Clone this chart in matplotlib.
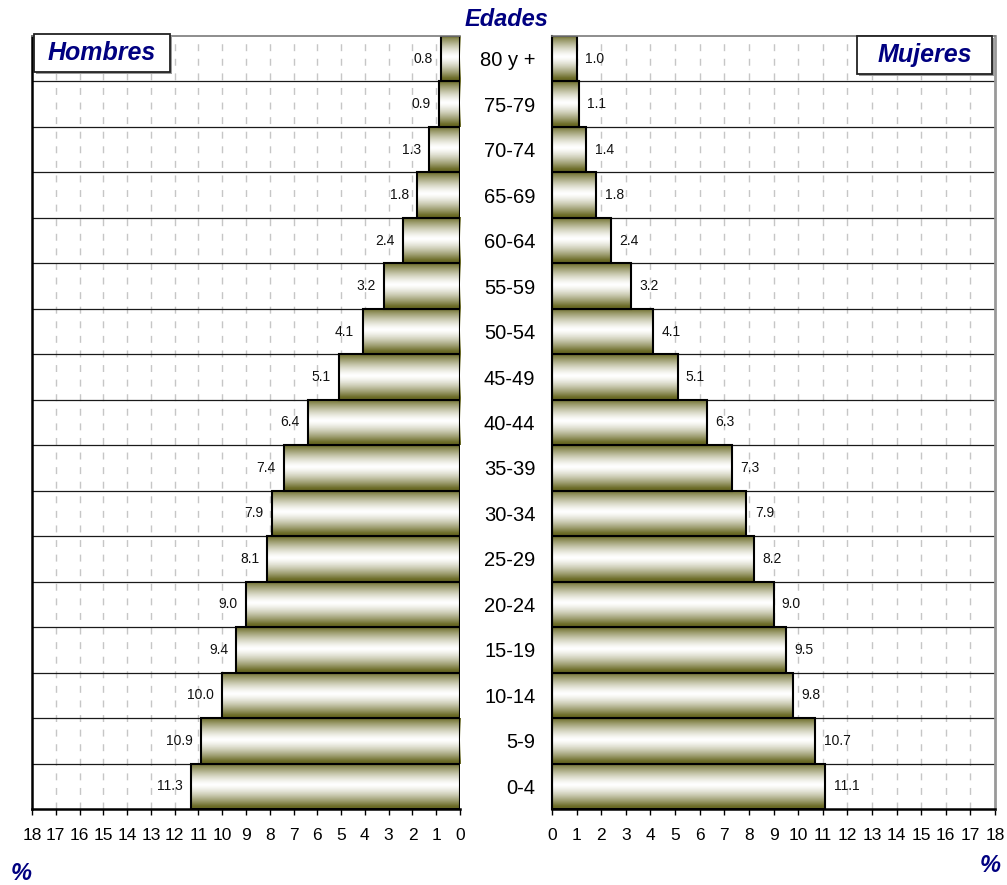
import numpy as np
import matplotlib
matplotlib.use("Agg")
import matplotlib.pyplot as plt
from matplotlib.patches import Rectangle

plt.rcParams['font.family'] = ['Liberation Sans', 'DejaVu Sans']

# ---- data (top to bottom) ----
edades = ["80 y +", "75-79", "70-74", "65-69", "60-64", "55-59", "50-54", "45-49",
          "40-44", "35-39", "30-34", "25-29", "20-24", "15-19", "10-14", "5-9", "0-4"]
hombres = [0.8, 0.9, 1.3, 1.8, 2.4, 3.2, 4.1, 5.1, 6.4, 7.4, 7.9, 8.1, 9.0, 9.4, 10.0, 10.9, 11.3]
mujeres = [1.0, 1.1, 1.4, 1.8, 2.4, 3.2, 4.1, 5.1, 6.3, 7.3, 7.9, 8.2, 9.0, 9.5, 9.8, 10.7, 11.1]
xticks = list(range(0, 19))

W, H = 1007, 885
fig = plt.figure(figsize=(W / 100, H / 100), dpi=100)

top_px, bot_px = 36, 809
axL = fig.add_axes([32 / W, (H - bot_px) / H, 428 / W, (bot_px - top_px) / H])
axR = fig.add_axes([552 / W, (H - bot_px) / H, 443 / W, (bot_px - top_px) / H])

olive = np.array([0.42, 0.42, 0.15])
white = np.array([1.0, 1.0, 1.0])
t = np.linspace(0, 1, 200)
w = np.clip(np.abs(t - 0.47) / 0.47, 0, 1) ** 1.4
grad = (white[None, :] * (1 - w[:, None]) + olive[None, :] * w[:, None])
grad_img = np.repeat(grad[:, None, :], 2, axis=1)

navy = '#000080'
ypos = np.arange(len(edades))

for ax, vals, side in [(axL, hombres, 'L'), (axR, mujeres, 'R')]:
    ax.set_zorder(1)
    bars = ax.barh(ypos, vals, height=1.0, facecolor='none', edgecolor='black',
                   linewidth=1.5, zorder=4)
    for b in bars:
        x0, y0 = b.get_x(), b.get_y()
        bw, bh = b.get_width(), b.get_height()
        ax.imshow(grad_img, extent=[x0, x0 + bw, y0 + bh, y0], aspect='auto',
                  interpolation='bilinear', zorder=3)
    ax.set_ylim(len(edades) - 0.5, -0.5)
    if side == 'L':
        ax.set_xlim(18, 0)
    else:
        ax.set_xlim(0, 18)
    ax.set_xticks(xticks)
    ax.set_xticklabels([str(v) for v in xticks], fontsize=12.5)
    ax.tick_params(axis='x', direction='out', length=4, width=1, pad=10, colors='black')
    # vertical dashed grid
    for xv in xticks[1:-1]:
        ax.axvline(xv, color='#c6c6c6', lw=1, dashes=(5, 5.5), zorder=1)
    # horizontal separators
    for yb in np.arange(-0.5, len(edades) - 0.5, 1.0)[1:]:
        ax.axhline(yb, color='#1a1a1a', lw=0.9, zorder=2)
    for i, v in enumerate(vals):
        if side == 'L':
            ax.annotate(f"{v:.1f}", (v, i), xytext=(-6, 0), textcoords='offset points',
                        ha='right', va='center', fontsize=10, color='#111111', zorder=5)
        else:
            ax.annotate(f"{v:.1f}", (v, i), xytext=(6, 0), textcoords='offset points',
                        ha='left', va='center', fontsize=10, color='#111111', zorder=5)
    for s in ax.spines.values():
        s.set_zorder(6)
    ax.spines['top'].set_color('#7a7a7a')
    ax.spines['top'].set_linewidth(1.2)
    ax.spines['bottom'].set_color('black')
    ax.spines['bottom'].set_linewidth(1.8)

axL.set_yticks([])
axL.spines['left'].set_linewidth(1.8)
axL.spines['left'].set_color('black')
axL.spines['right'].set_visible(False)

axR.set_yticks(ypos)
axR.set_yticklabels(edades, fontsize=14.5)
axR.tick_params(axis='y', length=0, pad=12)
axR.spines['right'].set_color('#999999')
axR.spines['right'].set_linewidth(2)
axR.spines['left'].set_linewidth(1.5)

# titles / boxes
def label_box(x0, y0, x1, y1, text):
    fig.patches.append(Rectangle((x0 / W + 2 / W, 1 - (y1 + 2) / H), (x1 - x0) / W, (y1 - y0) / H,
                                 transform=fig.transFigure, facecolor='#9a9a9a',
                                 edgecolor='none', zorder=8))
    fig.patches.append(Rectangle((x0 / W, 1 - y1 / H), (x1 - x0) / W, (y1 - y0) / H,
                                 transform=fig.transFigure, facecolor='white',
                                 edgecolor='#222222', lw=1.3, zorder=9))
    fig.text((x0 + x1) / 2 / W, 1 - (y0 + y1) / 2 / H, text, ha='center', va='center',
             fontsize=18, fontweight='bold', fontstyle='italic', color=navy, zorder=10)

label_box(34, 34, 170, 72, "Hombres")
label_box(857, 36, 992, 74, "Mujeres")

fig.text(507 / W, 1 - 20 / H, "Edades", ha='center', va='center', fontsize=17,
         fontweight='bold', fontstyle='italic', color=navy)
fig.text(21 / W, 1 - 874 / H, "%", ha='center', va='center', fontsize=17,
         fontweight='bold', fontstyle='italic', color=navy)
fig.text(990 / W, 1 - 865 / H, "%", ha='center', va='center', fontsize=17,
         fontweight='bold', fontstyle='italic', color=navy)

fig.savefig("out.png", dpi=100)
